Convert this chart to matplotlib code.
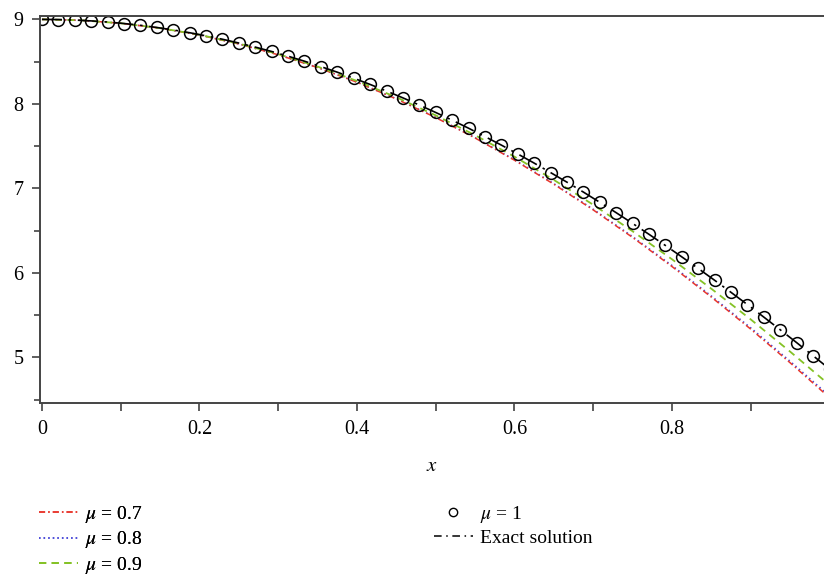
import matplotlib.pyplot as plt
from matplotlib.ticker import MultipleLocator
from matplotlib.lines import Line2D

plt.rcParams['font.family'] = ['Liberation Serif', 'DejaVu Serif']
plt.rcParams['mathtext.fontset'] = 'stix'

# --- data ---
x_line = [0.00, 0.05, 0.10, 0.15, 0.20, 0.25, 0.30, 0.35, 0.40, 0.45, 0.50,
          0.55, 0.60, 0.65, 0.70, 0.75, 0.80, 0.85, 0.90, 0.95, 1.00]
mu07 = [9.000, 8.989, 8.954, 8.896, 8.815, 8.709, 8.581, 8.430, 8.256, 8.058, 7.838,
        7.596, 7.333, 7.049, 6.745, 6.419, 6.075, 5.713, 5.334, 4.936, 4.523]
mu08 = [9.000, 8.989, 8.954, 8.896, 8.815, 8.710, 8.582, 8.432, 8.258, 8.061, 7.841,
        7.600, 7.339, 7.056, 6.753, 6.429, 6.087, 5.726, 5.349, 4.954, 4.543]
mu09 = [9.000, 8.989, 8.954, 8.897, 8.818, 8.714, 8.589, 8.441, 8.271, 8.078, 7.864,
        7.629, 7.375, 7.100, 6.806, 6.492, 6.161, 5.812, 5.449, 5.068, 4.673]

x_pts = [i / 48 for i in range(49)]
mu1 = [9.000, 8.998, 8.992, 8.982, 8.969, 8.951, 8.930, 8.904, 8.875, 8.842,
       8.805, 8.765, 8.720, 8.672, 8.620, 8.564, 8.505, 8.441, 8.375, 8.304,
       8.230, 8.152, 8.071, 7.986, 7.898, 7.807, 7.712, 7.613, 7.512, 7.407,
       7.299, 7.187, 7.073, 6.956, 6.835, 6.712, 6.585, 6.456, 6.324, 6.189,
       6.052, 5.912, 5.769, 5.624, 5.476, 5.326, 5.174, 5.019, 4.863]
exact = mu1

RED = '#e8362c'
BLUE = '#4848d8'
GREEN = '#84c225'

fig = plt.figure(figsize=(8.24, 5.77), dpi=100)
ax = fig.add_axes([40 / 824, 1 - 403 / 577, 1 - 40 / 824, (403 - 16) / 577])

ax.plot(x_line, mu08, color=BLUE, lw=1.1, dashes=(1, 2))
ax.plot(x_line, mu07, color=RED, lw=1.1, dashes=(4, 2, 1, 2))
ax.plot(x_line, mu09, color=GREEN, lw=1.3, dashes=(4, 3))
ax.plot(x_pts, exact, color='black', lw=1.2, dashes=(12, 4, 1.5, 4))
ax.plot(x_pts, mu1, ls='none', marker='o', ms=8.5, mfc='none', mec='black', mew=1.1)

ax.set_xlim(-0.0025, 0.993)
ax.set_ylim(4.46, 9.04)

ax.xaxis.set_major_locator(MultipleLocator(0.2))
ax.xaxis.set_minor_locator(MultipleLocator(0.1))
ax.yaxis.set_major_locator(MultipleLocator(1))
ax.yaxis.set_minor_locator(MultipleLocator(0.5))
ax.set_xticks([0, 0.2, 0.4, 0.6, 0.8])
ax.set_xticklabels(['0', '0.2', '0.4', '0.6', '0.8'])
ax.tick_params(axis='both', which='both', direction='out', color='#333333',
               labelsize=14.5, width=1.1)
ax.tick_params(axis='x', which='both', length=6, pad=6)
ax.tick_params(axis='y', which='major', length=6, pad=6)
ax.tick_params(axis='y', which='minor', length=4)

for side in ['left', 'bottom', 'top']:
    ax.spines[side].set_color('#444444')
    ax.spines[side].set_linewidth(1.4)
ax.spines['right'].set_visible(False)

ax.set_xlabel('$x$', fontsize=15, labelpad=13)

h1 = [Line2D([], [], color=RED, lw=1.1, dashes=(4, 2, 1, 2)),
      Line2D([], [], color=BLUE, lw=1.1, dashes=(1, 2)),
      Line2D([], [], color=GREEN, lw=1.3, dashes=(4, 3))]
l1 = ['$\\mu$ = 0.7', '$\\mu$ = 0.8', '$\\mu$ = 0.9']
h2 = [Line2D([], [], ls='none', marker='o', ms=6, mfc='none', mec='black', mew=1.0),
      Line2D([], [], color='black', lw=1.1, dashes=(5, 3, 1, 3))]
l2 = ['$\\mu$ = 1', 'Exact solution']

leg1 = fig.legend(h1, l1, loc='upper left', bbox_to_anchor=(31 / 824, 1 - 496 / 577),
                  frameon=False, fontsize=14, handlelength=2.0, handletextpad=0.4,
                  labelspacing=0.24, borderaxespad=0)
leg2 = fig.legend(h2, l2, loc='upper left', bbox_to_anchor=(426 / 824, 1 - 496 / 577),
                  frameon=False, fontsize=14, handlelength=2.0, handletextpad=0.4,
                  labelspacing=0.24, borderaxespad=0)
fig.add_artist(leg1)

fig.savefig('out.png', dpi=100)
